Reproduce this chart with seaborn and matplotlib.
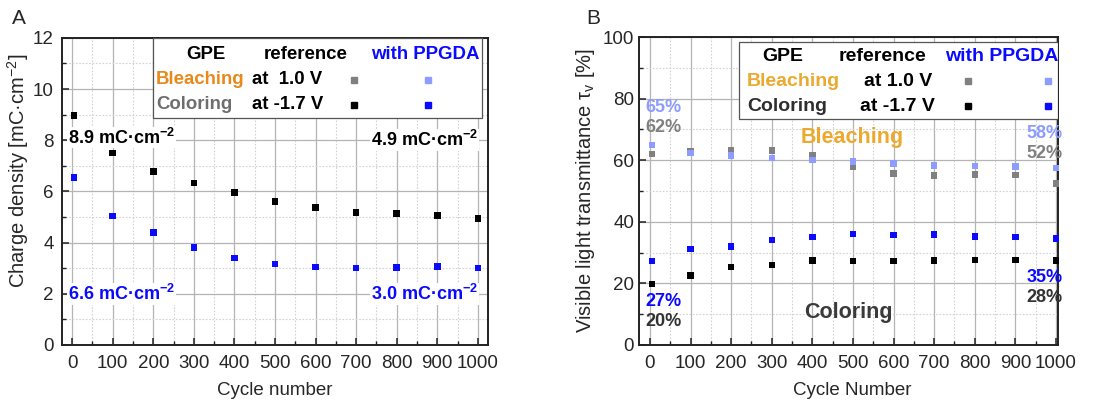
import numpy as np
import pandas as pd
import matplotlib
matplotlib.use("Agg")
import matplotlib.pyplot as plt
from matplotlib.ticker import MultipleLocator
import seaborn as sns

# ---------------- data ----------------
cycles = [5, 100, 200, 300, 400, 500, 600, 700, 800, 900, 1000]

# Panel A: charge density [mC cm^-2]
charge_reference = [8.96, 7.50, 6.77, 6.32, 5.95, 5.60, 5.38, 5.18, 5.13, 5.05, 4.95]
charge_ppgda = [6.54, 5.04, 4.40, 3.80, 3.39, 3.16, 3.05, 3.01, 3.03, 3.07, 3.00]

# Panel B: visible light transmittance [%]
bleach_reference = [62.1, 62.8, 63.1, 63.1, 61.6, 58.0, 55.7, 55.0, 55.4, 55.2, 52.5]
bleach_ppgda = [65.0, 62.3, 61.6, 60.7, 60.0, 59.6, 59.0, 58.3, 58.1, 57.9, 57.4]
color_reference = [19.8, 22.6, 25.4, 26.0, 27.5, 27.2, 27.3, 27.4, 27.6, 27.6, 27.5]
color_ppgda = [27.3, 31.1, 31.9, 34.1, 35.0, 36.1, 35.7, 35.9, 35.2, 35.1, 34.6]

xticks = [0, 100, 200, 300, 400, 500, 600, 700, 800, 900, 1000]

# ---------------- style ----------------
sns.set_theme(style="white")
plt.rcParams['font.family'] = ['Liberation Sans', 'DejaVu Sans']
plt.rcParams['mathtext.fontset'] = 'custom'
plt.rcParams['mathtext.rm'] = 'Liberation Sans'
plt.rcParams['mathtext.it'] = 'Liberation Sans:italic'
plt.rcParams['mathtext.bf'] = 'Liberation Sans:bold'

BLUE = "#0a0aff"
LIGHTBLUE = "#8c9cff"
GREY = "#808080"
BLACK = "#000000"
ORANGE_A = "#e8891c"
ORANGE_B = "#eca92e"

fig = plt.figure(figsize=(11.09, 4.03), dpi=100)
axA = fig.add_axes([0.0559, 0.144, 0.3841, 0.762])
axB = fig.add_axes([0.5762, 0.144, 0.3778, 0.764])


def style_axes(ax, ymax, ymajor, yminor, xlim, ypad):
    ax.set_xlim(*xlim)
    ax.set_ylim(0, ymax)
    ax.set_xticks(xticks)
    ax.xaxis.set_minor_locator(MultipleLocator(50))
    ax.yaxis.set_major_locator(MultipleLocator(ymajor))
    ax.yaxis.set_minor_locator(MultipleLocator(yminor))
    ax.grid(True, which='major', color='#b4b4b4', linewidth=0.9, linestyle='-')
    ax.grid(True, which='minor', color='#d2d2d2', linewidth=0.8, linestyle=(0, (1.5, 1.5)))
    ax.set_axisbelow(True)
    ax.tick_params(which='major', direction='in', length=5, width=1.1, color='#222222',
                   labelsize=13.5, bottom=True, left=True, top=False, right=False)
    ax.tick_params(axis='x', which='major', pad=7)
    ax.tick_params(axis='y', which='major', pad=ypad)
    ax.tick_params(which='minor', direction='in', length=3, width=1.0, color='#222222',
                   bottom=True, left=True, top=False, right=False)
    for s in ax.spines.values():
        s.set_color('#222222')
        s.set_linewidth(1.4)


# ---------------- Panel A ----------------
dfA = pd.DataFrame({
    "cycle": cycles * 2,
    "value": charge_reference + charge_ppgda,
    "series": ["reference"] * len(cycles) + ["PPGDA"] * len(cycles),
})
sns.scatterplot(data=dfA, x="cycle", y="value", hue="series",
                palette={"reference": BLACK, "PPGDA": BLUE},
                marker='s', s=22, linewidth=0, legend=False, ax=axA, zorder=5)
style_axes(axA, 12, 2, 1, (-25, 1025), 6.0)
axA.set_xlabel("Cycle number", fontsize=13.5)
axA.set_ylabel("Charge density [mC·cm$^{-2}$]", fontsize=14.5)
axA.xaxis.set_label_coords(0.5, -0.12)
axA.yaxis.set_label_coords(-0.073, 0.567)

bb = dict(facecolor='white', edgecolor='none', pad=0.5)
axA.text(-10, 8.1, "8.9 mC·cm$^{\\mathbf{-2}}$", fontsize=13, fontweight='bold', color=BLACK,
         ha='left', va='center', bbox=bb, zorder=6)
axA.text(1000, 8.0, "4.9 mC·cm$^{\\mathbf{-2}}$", fontsize=13, fontweight='bold', color=BLACK,
         ha='right', va='center', bbox=bb, zorder=6)
axA.text(-10, 2.0, "6.6 mC·cm$^{\\mathbf{-2}}$", fontsize=13, fontweight='bold', color=BLUE,
         ha='left', va='center', bbox=bb, zorder=6)
axA.text(1000, 2.0, "3.0 mC·cm$^{\\mathbf{-2}}$", fontsize=13, fontweight='bold', color=BLUE,
         ha='right', va='center', bbox=bb, zorder=6)

# legend box A
tA = axA.transAxes
axA.add_patch(plt.Rectangle((0.214, 0.739), 0.772, 0.261, transform=tA, facecolor='white',
                            edgecolor='#555555', linewidth=0.9, zorder=7))
kw = dict(transform=tA, fontsize=13.4, fontweight='bold', va='center', zorder=8)
axA.text(0.338, 0.945, "GPE", ha='center', color=BLACK, **kw)
axA.text(0.573, 0.945, "reference", ha='center', color=BLACK, **kw)
axA.text(0.852, 0.945, "with PPGDA", ha='center', color=BLUE, **kw)
axA.text(0.221, 0.863, "Bleaching", ha='left', color=ORANGE_A, **kw)
axA.text(0.446, 0.863, "at  1.0 V", ha='left', color=BLACK, **kw)
axA.text(0.221, 0.782, "Coloring", ha='left', color='#6e6e6e', **kw)
axA.text(0.446, 0.782, "at -1.7 V", ha='left', color=BLACK, **kw)
for (xx, yy, c) in [(0.685, 0.863, GREY), (0.859, 0.863, LIGHTBLUE),
                    (0.685, 0.782, BLACK), (0.859, 0.782, BLUE)]:
    axA.plot([xx], [yy], marker='s', markersize=4.3, color=c, linestyle='none',
             transform=tA, zorder=9, clip_on=False)

# ---------------- Panel B ----------------
dfB = pd.DataFrame({
    "cycle": cycles * 4,
    "value": bleach_reference + bleach_ppgda + color_reference + color_ppgda,
    "series": (["bleach_ref"] * len(cycles) + ["bleach_ppgda"] * len(cycles)
               + ["color_ref"] * len(cycles) + ["color_ppgda"] * len(cycles)),
})
sns.scatterplot(data=dfB, x="cycle", y="value", hue="series",
                palette={"bleach_ref": GREY, "bleach_ppgda": LIGHTBLUE,
                         "color_ref": BLACK, "color_ppgda": BLUE},
                hue_order=["bleach_ppgda", "bleach_ref", "color_ref", "color_ppgda"],
                marker='s', s=22, linewidth=0, legend=False, ax=axB, zorder=5,
                clip_on=False)
style_axes(axB, 100, 20, 10, (-27, 1005), 3.5)
axB.set_xlabel("Cycle Number", fontsize=13.5)
axB.set_ylabel("Visible light transmittance τ$_\\mathrm{v}$ [%]", fontsize=14.5)
axB.xaxis.set_label_coords(0.508, -0.12)
axB.yaxis.set_label_coords(-0.100, 0.503)

kwp = dict(fontsize=13, fontweight='bold', va='center', zorder=6)
axB.text(-12, 77, "65%", ha='left', color=LIGHTBLUE, **kwp)
axB.text(-12, 70.5, "62%", ha='left', color=GREY, **kwp)
axB.text(1017, 68.8, "58%", ha='right', color=LIGHTBLUE, **kwp)
axB.text(1017, 62.3, "52%", ha='right', color=GREY, **kwp)
axB.text(-12, 14, "27%", ha='left', color=BLUE, **kwp)
axB.text(-12, 7.5, "20%", ha='left', color='#333333', **kwp)
axB.text(1017, 21.8, "35%", ha='right', color=BLUE, **kwp)
axB.text(1017, 15.3, "28%", ha='right', color='#333333', **kwp)
axB.text(497, 67.5, "Bleaching", ha='center', color=ORANGE_B, fontsize=15.5, fontweight='bold',
         va='center', zorder=6)
axB.text(488, 10.4, "Coloring", ha='center', color='#3a3a3a', fontsize=15.5, fontweight='bold',
         va='center', zorder=6)

tB = axB.transAxes
axB.add_patch(plt.Rectangle((0.239, 0.734), 0.761, 0.250, transform=tB, facecolor='white',
                            edgecolor='#555555', linewidth=0.9, zorder=7))
kwb = dict(transform=tB, fontsize=14, fontweight='bold', va='center', zorder=8)
axB.text(0.344, 0.938, "GPE", ha='center', color=BLACK, **kwb)
axB.text(0.582, 0.938, "reference", ha='center', color=BLACK, **kwb)
axB.text(0.866, 0.938, "with PPGDA", ha='center', color=BLUE, **kwb)
axB.text(0.258, 0.857, "Bleaching", ha='left', color=ORANGE_B, **kwb)
axB.text(0.618, 0.857, "at 1.0 V", ha='center', color=BLACK, **kwb)
axB.text(0.258, 0.776, "Coloring", ha='left', color='#2e2e2e', **kwb)
axB.text(0.616, 0.776, "at -1.7 V", ha='center', color=BLACK, **kwb)
for (xx, yy, c) in [(0.785, 0.857, GREY), (0.976, 0.857, LIGHTBLUE),
                    (0.785, 0.776, BLACK), (0.976, 0.776, BLUE)]:
    axB.plot([xx], [yy], marker='s', markersize=4.3, color=c, linestyle='none',
             transform=tB, zorder=9, clip_on=False)

# panel letters
fig.text(0.011, 0.955, "A", fontsize=15, ha='left', va='center')
fig.text(0.529, 0.955, "B", fontsize=15, ha='left', va='center')

fig.savefig("out.png", dpi=100)
